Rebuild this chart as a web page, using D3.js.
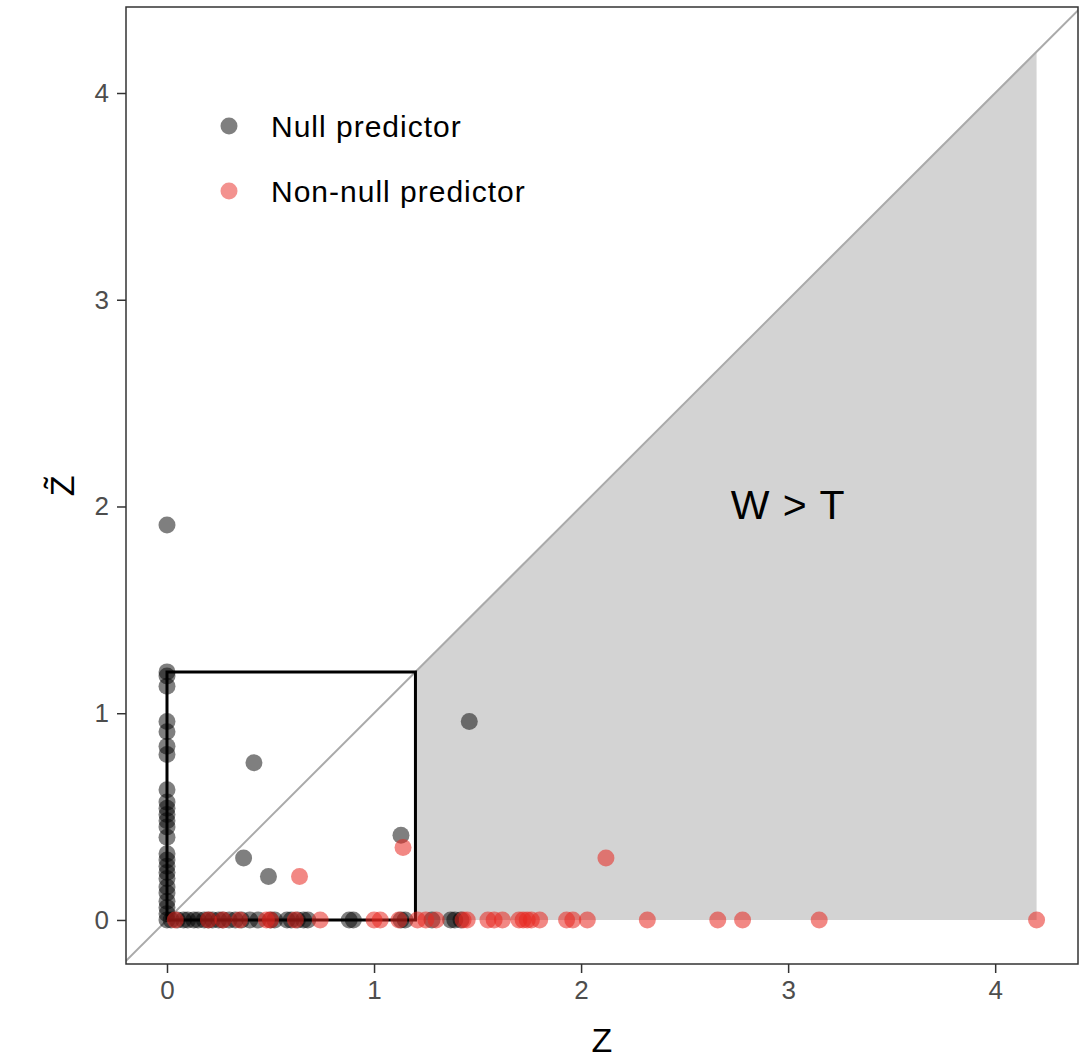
<!DOCTYPE html>
<html>
<head>
<meta charset="utf-8">
<script src="https://cdn.jsdelivr.net/npm/d3@7"></script>
<style>
  html, body { margin: 0; padding: 0; background: #fff; overflow: hidden; }
  svg { display: block; }
  text { font-family: "Liberation Sans", Helvetica, Arial, sans-serif; }
</style>
</head>
<body>
<div id="chart"></div>
<script>
// null predictors (Z, Z~)
const nullZ = [
  // along x = 0
  0, 0, 0, 0, 0, 0, 0, 0, 0, 0, 0, 0, 0, 0, 0, 0, 0, 0, 0, 0, 0, 0, 0, 0, 0, 0,
  // along y = 0
  0.02, 0.05, 0.08, 0.1, 0.13, 0.15, 0.18, 0.2, 0.22, 0.25, 0.27, 0.3, 0.33, 0.36, 0.4,
  0.44, 0.5, 0.52, 0.58, 0.6, 0.63, 0.66, 0.68, 0.88, 0.9, 1.13, 1.15, 1.28, 1.37, 1.39, 1.42,
  // scattered
  0.42, 0.37, 0.49, 1.13, 1.46
];
const nullZt = [
  1.91, 1.2, 1.18, 1.13, 0.96, 0.91, 0.84, 0.8, 0.63, 0.57, 0.54, 0.51, 0.48, 0.45, 0.4,
  0.32, 0.29, 0.26, 0.23, 0.2, 0.16, 0.13, 0.09, 0.06, 0.03, 0,
  0, 0, 0, 0, 0, 0, 0, 0, 0, 0, 0, 0, 0, 0, 0,
  0, 0, 0, 0, 0, 0, 0, 0, 0, 0, 0, 0, 0, 0, 0, 0,
  0.76, 0.3, 0.21, 0.41, 0.96
];

// non-null predictors (Z, Z~)
const signalZ = [
  0.04, 0.2, 0.27, 0.35, 0.48, 0.5, 0.62, 0.74, 1.0, 1.03, 1.12, 1.21, 1.25, 1.3, 1.43, 1.45,
  1.55, 1.58, 1.62, 1.7, 1.72, 1.74, 1.76, 1.8, 1.93, 1.96, 2.03, 2.32, 2.66, 2.78, 3.15, 4.2,
  0.64, 1.14, 2.12
];
const signalZt = [
  0, 0, 0, 0, 0, 0, 0, 0, 0, 0, 0, 0, 0, 0, 0, 0,
  0, 0, 0, 0, 0, 0, 0, 0, 0, 0, 0, 0, 0, 0, 0, 0,
  0.21, 0.35, 0.3
];

const threshold = 1.2;
const zMax = 4.2;
const ticks = [0, 1, 2, 3, 4];
const legendItems = [
  { label: "Null predictor", color: "#000000" },
  { label: "Non-null predictor", color: "#e8261f" }
];

const width = 1092, height = 1062;
const margin = { top: 7, right: 14, bottom: 98, left: 126 };
const innerWidth = width - margin.left - margin.right;
const innerHeight = height - margin.top - margin.bottom;

const xScale = d3.scaleLinear().domain([-0.198, 4.4]).range([0, innerWidth]);
const yScale = d3.scaleLinear().domain([-0.213, 4.416]).range([innerHeight, 0]);

const svg = d3.select("#chart").append("svg")
  .attr("width", width)
  .attr("height", height);

svg.append("defs").append("clipPath").attr("id", "clip")
  .append("rect").attr("width", innerWidth).attr("height", innerHeight);

const innerChart = svg.append("g")
  .attr("transform", `translate(${margin.left},${margin.top})`);

const plot = innerChart.append("g").attr("clip-path", "url(#clip)");

// shaded W > T region
const region = [[threshold, 0], [zMax, 0], [zMax, zMax], [threshold, threshold]];
plot.append("path")
  .attr("d", d3.line().x((d) => xScale(d[0])).y((d) => yScale(d[1]))(region))
  .attr("fill", "#d3d3d3");

// diagonal
plot.append("line")
  .attr("x1", xScale(-0.5)).attr("y1", yScale(-0.5))
  .attr("x2", xScale(5)).attr("y2", yScale(5))
  .attr("stroke", "#aaaaaa")
  .attr("stroke-width", 2);

// threshold box
const box = [[0, 0], [0, threshold], [threshold, threshold], [threshold, 0], [0, 0]];
plot.append("path")
  .attr("d", d3.line().x((d) => xScale(d[0])).y((d) => yScale(d[1]))(box))
  .attr("fill", "none")
  .attr("stroke", "#000")
  .attr("stroke-width", 3);

const nullPts = nullZ.map((z, i) => ({ z: z, zt: nullZt[i] }));
const signalPts = signalZ.map((z, i) => ({ z: z, zt: signalZt[i] }));

plot.selectAll(".null-pt")
  .data(nullPts)
  .join("circle")
  .attr("class", "null-pt")
  .attr("cx", (d) => xScale(d.z))
  .attr("cy", (d) => yScale(d.zt))
  .attr("r", 8.5)
  .attr("fill", legendItems[0].color)
  .attr("fill-opacity", 0.5);

plot.selectAll(".signal-pt")
  .data(signalPts)
  .join("circle")
  .attr("class", "signal-pt")
  .attr("cx", (d) => xScale(d.z))
  .attr("cy", (d) => yScale(d.zt))
  .attr("r", 8.5)
  .attr("fill", legendItems[1].color)
  .attr("fill-opacity", 0.55);

innerChart.append("text")
  .attr("x", xScale(3.0))
  .attr("y", yScale(1.99))
  .attr("text-anchor", "middle")
  .attr("dominant-baseline", "middle")
  .style("font-size", "41px")
  .style("letter-spacing", "1px")
  .style("fill", "#000")
  .text("W > T");

// legend
const legend = innerChart.append("g");
legendItems.forEach((item, i) => {
  const ly = 119 + i * 65;
  legend.append("circle")
    .attr("cx", 103).attr("cy", ly).attr("r", 8.5)
    .attr("fill", item.color).attr("fill-opacity", 0.5);
  legend.append("text")
    .attr("x", 145).attr("y", ly)
    .attr("dominant-baseline", "central")
    .style("font-size", "30px")
    .style("letter-spacing", "1px")
    .style("fill", "#000")
    .text(item.label);
});

// panel border
innerChart.append("rect")
  .attr("width", innerWidth)
  .attr("height", innerHeight)
  .attr("fill", "none")
  .attr("stroke", "#333")
  .attr("stroke-width", 1.5);

// axes
const xAxis = innerChart.append("g")
  .attr("transform", `translate(0,${innerHeight})`)
  .call(d3.axisBottom(xScale).tickValues(ticks).tickFormat(d3.format("d")).tickSizeOuter(0).tickSize(9).tickPadding(8));
const yAxis = innerChart.append("g")
  .call(d3.axisLeft(yScale).tickValues(ticks).tickFormat(d3.format("d")).tickSizeOuter(0).tickSize(9).tickPadding(8));

[xAxis, yAxis].forEach((ax) => {
  ax.select(".domain").remove();
  ax.selectAll(".tick line").attr("stroke", "#333").attr("stroke-width", 1.5);
  ax.selectAll(".tick text")
    .style("font-size", "26px")
    .style("fill", "#4d4d4d")
    .style("font-family", "'Liberation Sans', Helvetica, Arial, sans-serif");
});

// axis titles
svg.append("text")
  .attr("x", margin.left + xScale(2.1))
  .attr("y", 1052)
  .attr("text-anchor", "middle")
  .style("font-size", "34px")
  .style("fill", "#000")
  .text("Z");

svg.append("text")
  .attr("transform", `translate(74,${margin.top + yScale(2.1)}) rotate(-90)`)
  .attr("text-anchor", "middle")
  .style("font-size", "34px")
  .style("fill", "#000")
  .text("Z\u0303");
</script>
</body>
</html>
